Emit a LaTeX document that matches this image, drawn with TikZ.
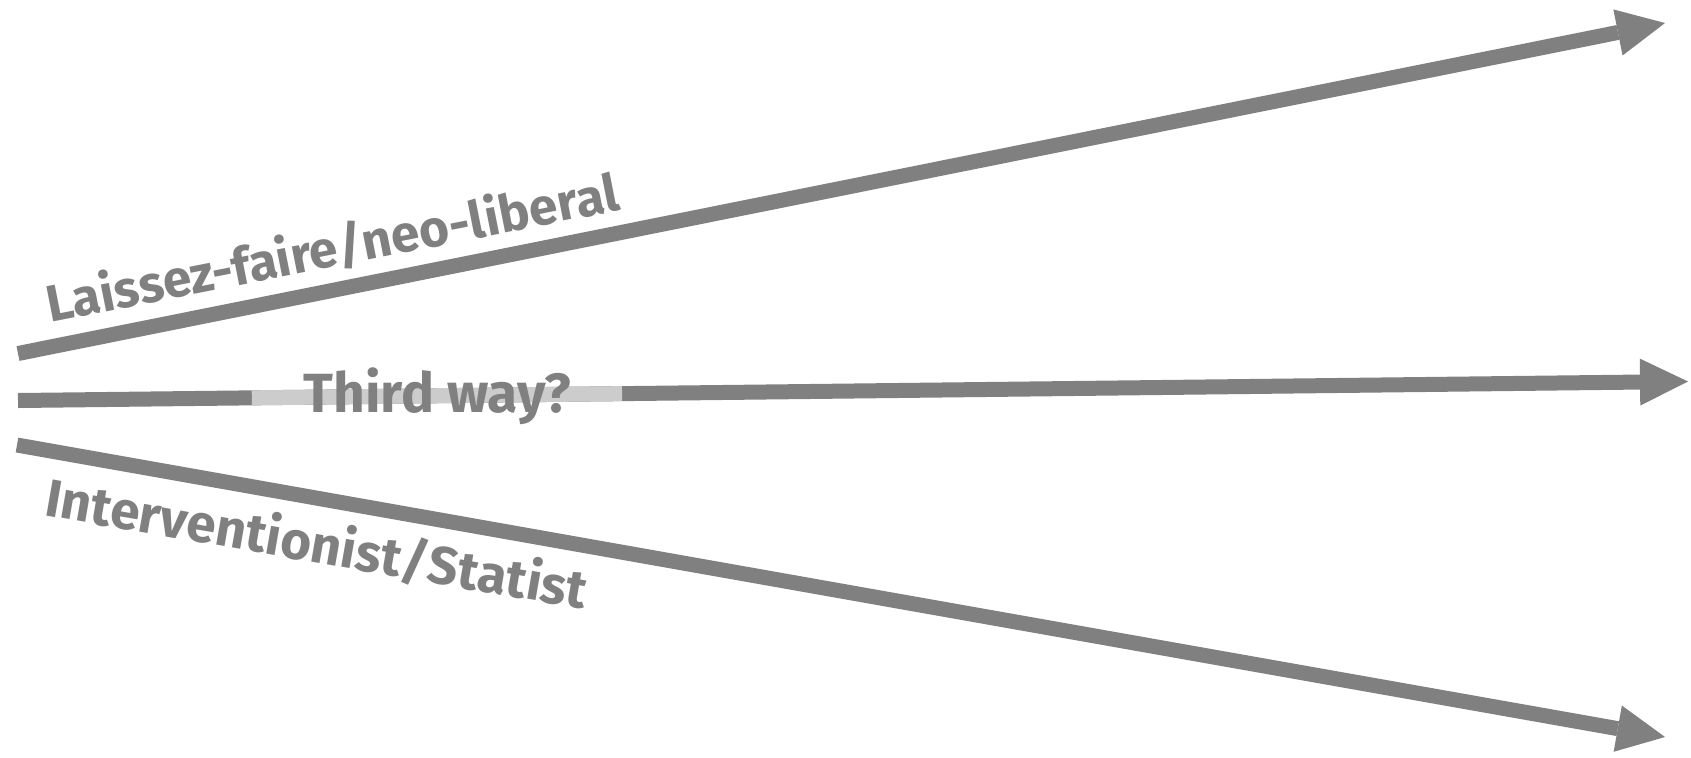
\documentclass[tikz,border=0pt]{standalone}
\usepackage{fontspec}
\setmainfont{Fira Sans}
\usetikzlibrary{arrows.meta,calc}

\begin{document}
\begin{tikzpicture}[x=0.5pt,y=-0.5pt,
trend/.style={draw=gray,line width=7.5pt,
  -{Triangle[length=24pt,width=23.5pt,line width=0pt]}},
lbl/.style={text=gray,font=\fontsize{25.8}{28}\selectfont\bfseries,inner sep=0pt},
midlbl/.style={lbl,font=\fontsize{27.6}{30}\selectfont\bfseries}]
\useasboundingbox (0,0) rectangle (1691,757);

\coordinate (lf-start) at (18,353.5);
\coordinate (lf-end) at (1665,23);
\coordinate (tw-start) at (18,400.5);
\coordinate (tw-end) at (1688,381.5);
\coordinate (st-start) at (17,445);
\coordinate (st-end) at (1665,737);

\draw[trend] (lf-start) -- (lf-end);
\draw[trend] (tw-start) -- (tw-end);
\draw[trend] (st-start) -- (st-end);

% pale stretch of the middle line
\draw[gray!40,line width=7.5pt] ($(tw-start)!0.14!(tw-end)$) coordinate (tw-a)
  -- ($(tw-start)!0.3617!(tw-end)$) coordinate (tw-b);

\node[lbl,rotate=11.2,anchor=base west] (lf-label) at (50,323) {Laissez-faire/neo-liberal};
\node[midlbl,anchor=base west] (tw-label) at (303,412) {Third way?};
\node[lbl,rotate=-9.9,anchor=base west,font=\fontsize{26.5}{30}\selectfont\bfseries] (st-label) at (43,515) {Interventionist/Statist};
\end{tikzpicture}
\end{document}
